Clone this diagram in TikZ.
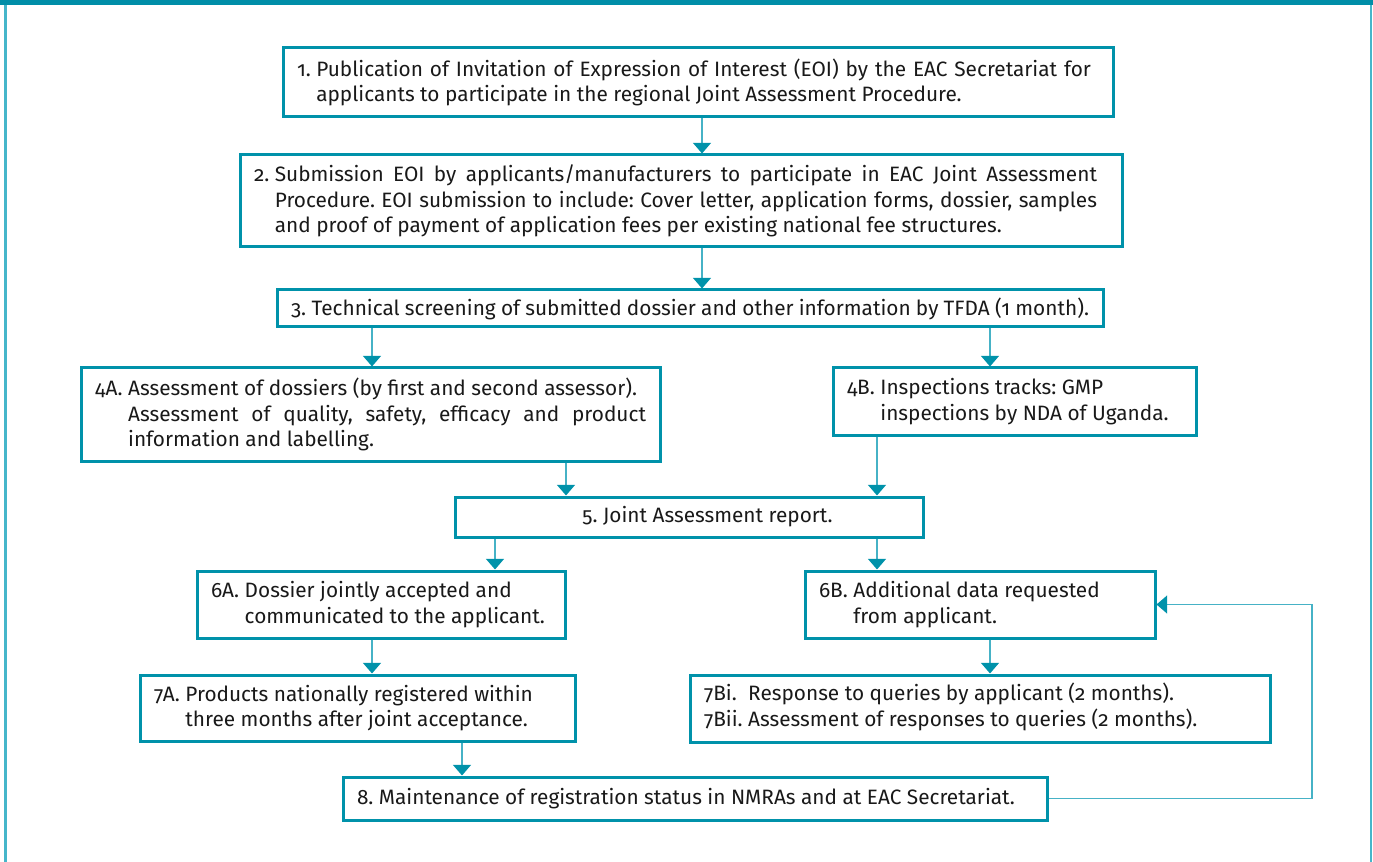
\documentclass[tikz,border=0pt]{standalone}
\usepackage{fontspec}
\setmainfont{Fira Sans}[Numbers=OldStyle]
\usetikzlibrary{arrows.meta}
\definecolor{boxc}{RGB}{0,146,170}
\definecolor{linec}{RGB}{70,178,198}
\definecolor{barc}{RGB}{0,142,168}
\definecolor{framec}{RGB}{70,182,202}
\definecolor{txtc}{RGB}{25,25,25}
\frenchspacing
\newcommand\hang[2]{\noindent\setbox0\hbox{#1\ }\hangindent=\wd0 \hangafter=1 \box0 #2\par}
\tikzset{
  fbox/.style={draw=boxc, line width=2.25pt, fill=white, inner sep=0pt,
    font=\fontsize{15.6}{19.2}\selectfont\frenchspacing, text=txtc, align=justify},
  conn/.style={draw=linec, line width=1.1pt,
    -{Triangle[width=13.5pt, length=8pt, color=boxc]}}
}
\newcommand\flowbox[6]{%
  \pgfmathsetmacro\bw{(#4-#2)*0.75}%
  \pgfmathsetmacro\bh{(#5-#3)*0.75}%
  \pgfmathsetmacro\tw{(#4-#2-28)*0.75}%
  \node[fbox, minimum width=\bw pt, minimum height=\bh pt, text width=\tw pt]
    (#1) at ({(#2+#4)/2},{(#3+#5)/2}) {#6};}
\begin{document}
\begin{tikzpicture}[x=0.75pt, y=-0.75pt]
\useasboundingbox (0,0) rectangle (1373,862);
\fill[barc] (0,0) rectangle (1373,5);
\draw[framec, line width=2.25pt] (5,5) -- (5,862);
\draw[framec, line width=1.5pt] (1371,5) -- (1371,862);

\flowbox{b1}{283}{48}{1113}{117}{\rightskip=6pt\hang{1.}{Publication of Invitation of Expression of Interest (EOI) by the EAC Secretariat for\linebreak applicants to participate in the regional Joint Assessment Procedure.}}
\flowbox{b2}{240}{155}{1122}{247}{\rightskip=8.25pt\hang{2.}{Submission EOI by applicants/manufacturers to participate in EAC Joint Assessment\linebreak Procedure. EOI submission to include: Cover letter, application forms, dossier, samples\linebreak and proof of payment of application fees per existing national fee structures.}}
\flowbox{b3}{277}{290}{1103}{327}{\hang{3.}{Technical screening of submitted dossier and other information by TFDA (1 month).}}
\flowbox{b4a}{81}{368}{660}{461}{\hang{4A.}{Assessment of dossiers (by first and second assessor).\newline Assessment of quality, safety, efficacy and product\linebreak information and labelling.}}
\flowbox{b4b}{833}{368}{1196}{435}{\hang{4B.}{Inspections tracks: GMP\newline inspections by NDA of Uganda.}}
\flowbox{b5}{455}{497}{923}{537}{\noindent\hspace*{85pt}5. Joint Assessment report.}
\flowbox{b6a}{197}{571}{565}{638}{\hang{6A.}{Dossier jointly accepted and\newline communicated to the applicant.}}
\flowbox{b6b}{805}{571}{1155}{638}{\hang{6B.}{Additional data requested\newline from applicant.}}
\flowbox{b7a}{140}{675}{575}{741}{\hang{7A.}{Products nationally registered within\newline three months after joint acceptance.}}
\flowbox{b7b}{690}{675}{1270}{742}{\noindent\begin{tabular}{@{}l@{\ }l@{}}7Bi. & Response to queries by applicant (2 months).\\ 7Bii. & Assessment of responses to queries (2 months).\end{tabular}}
\flowbox{b8}{343}{777}{1047}{820}{\hang{8.}{Maintenance of registration status in NMRAs and at EAC Secretariat.}}

\coordinate (cA) at (702,0);
\coordinate (cB) at (372,0);
\coordinate (cC) at (990,0);
\coordinate (cD) at (566,0);
\coordinate (cE) at (877,0);
\coordinate (cF) at (495,0);
\coordinate (cG) at (462,0);
\coordinate (loop) at (1312,700);

\draw[conn] (b1.south -| cA) -- (b2.north -| cA);
\draw[conn] (b2.south -| cA) -- (b3.north -| cA);
\draw[conn] (b3.south -| cB) -- (b4a.north -| cB);
\draw[conn] (b3.south -| cC) -- (b4b.north -| cC);
\draw[conn] (b4a.south -| cD) -- (b5.north -| cD);
\draw[conn] (b4b.south -| cE) -- (b5.north -| cE);
\draw[conn] (b5.south -| cF) -- (b6a.north -| cF);
\draw[conn] (b5.south -| cE) -- (b6b.north -| cE);
\draw[conn] (b6a.south -| cB) -- (b7a.north -| cB);
\draw[conn] (b6b.south -| cC) -- (b7b.north -| cC);
\draw[conn] (b7a.south -| cG) -- (b8.north -| cG);
\draw[conn] (b8.east) -| (loop) |- (b6b.east);
\end{tikzpicture}
\end{document}
